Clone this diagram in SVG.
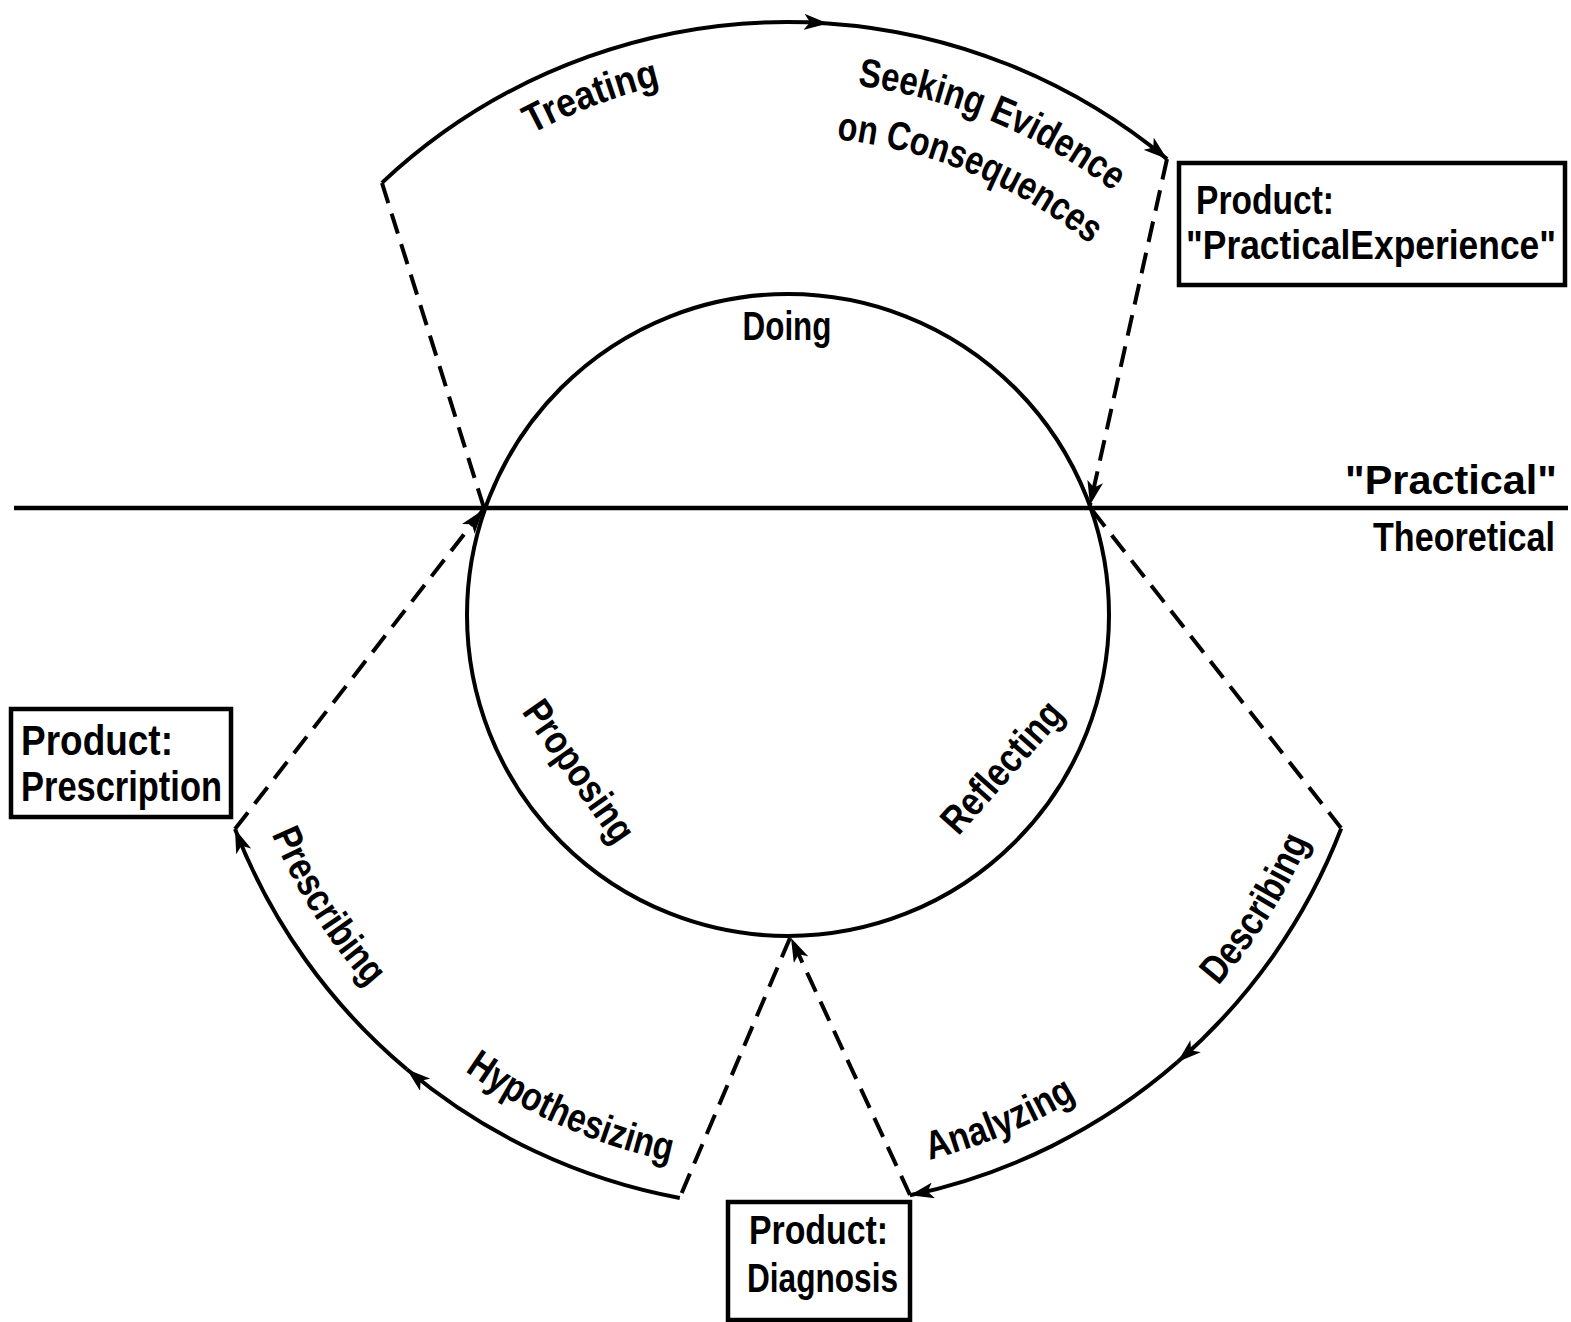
<svg xmlns="http://www.w3.org/2000/svg" width="1571" height="1322" viewBox="0 0 1571 1322">
  <style>
    .ln { fill: none; stroke: #000; stroke-width: 4; }
    .dash { fill: none; stroke: #000; stroke-width: 4; stroke-dasharray: 21 11; }
    .box { fill: #fff; stroke: #000; stroke-width: 4.5; }
    .t { font-family: "Liberation Sans", Arial, sans-serif; font-weight: bold; font-size: 40px; fill: #000; }
    .tb { font-size: 42px; }
  </style>
  <defs>
    <marker id="arr" viewBox="0 0 24 16" refX="24" refY="8" markerUnits="userSpaceOnUse" markerWidth="24" markerHeight="16" orient="auto">
      <path d="M0,0 L24,8 L0,16 L6,8 Z" fill="#000"/>
    </marker>
    <!-- baseline arcs for curved labels, all centred on (788,615) -->
    <path id="pTreating" d="M365.7,270.6 A545,545 0 0 1 875.1,77.0"/>
    <path id="pSeeking" d="M718.3,85.6 A534,534 0 0 1 1211.7,289.9"/>
    <path id="pConseq" d="M725.6,141.1 A478,478 0 0 1 1167.2,324.0"/>
    <path id="pDescribing" d="M1053.8,1117 A568,568 0 0 0 1355.6,635.8"/>
    <path id="pAnalyzing" d="M716.4,1173.4 A563,563 0 0 0 1235.9,956.2"/>
    <path id="pHypo" d="M337.2,945.5 A559,559 0 0 0 848.9,1170.7"/>
    <path id="pPrescribing" d="M227.5,637.5 A561,561 0 0 0 527.2,1111.7"/>
  </defs>

  <rect width="1571" height="1322" fill="#fff"/>

  <!-- connectors -->
  <g id="connectors">
    <!-- practical / theoretical divide -->
    <line x1="14" y1="508" x2="1568" y2="508" stroke="#000" stroke-width="4.5"/>
    <!-- outer cycle arcs -->
    <path class="ln" d="M381.9,182.9 A593,593 0 0 1 828,23.4" marker-end="url(#arr)"/>
    <path class="ln" d="M828,23.4 A593,593 0 0 1 1167.1,159.1" marker-end="url(#arr)"/>
    <path class="ln" d="M1341.2,828.5 A593,593 0 0 1 1177.5,1062.1" marker-end="url(#arr)"/>
    <path class="ln" d="M1177.5,1062.1 A593,593 0 0 1 909.9,1195.3" marker-end="url(#arr)"/>
    <path class="ln" d="M679.8,1198 A593,593 0 0 1 406.8,1069.3" marker-end="url(#arr)"/>
    <path class="ln" d="M406.8,1069.3 A593,593 0 0 1 235,829" marker-end="url(#arr)"/>
    <!-- dashed links between the arcs and the inner circle -->
    <path class="dash" d="M382,183 L484,508"/>
    <path class="dash" d="M235,829 L483,510" marker-end="url(#arr)"/>
    <path class="dash" d="M1167,159 L1090,505" marker-end="url(#arr)"/>
    <path class="dash" d="M1092,510 L1341,828"/>
    <path class="dash" d="M910,1195 L791,938" marker-end="url(#arr)"/>
    <path class="dash" d="M790,938 L680,1197"/>
  </g>

  <!-- inner cycle -->
  <g id="cycle">
    <circle class="ln" cx="788" cy="615" r="321"/>
    <text class="t" x="787" y="340" text-anchor="middle" textLength="89" lengthAdjust="spacingAndGlyphs">Doing</text>
    <text class="t" transform="translate(578,772) rotate(55)" x="0" y="12" text-anchor="middle" textLength="164" lengthAdjust="spacingAndGlyphs">Proposing</text>
    <text class="t" transform="translate(1003,768) rotate(-48.5)" x="0" y="12" text-anchor="middle" textLength="162" lengthAdjust="spacingAndGlyphs">Reflecting</text>
  </g>

  <!-- activity labels along the outer arcs -->
  <g id="activities">
    <text class="t"><textPath href="#pTreating" startOffset="50%" text-anchor="middle" textLength="138" lengthAdjust="spacingAndGlyphs">Treating</textPath></text>
    <text class="t"><textPath href="#pSeeking" startOffset="50%" text-anchor="middle" textLength="280" lengthAdjust="spacingAndGlyphs">Seeking Evidence</textPath></text>
    <text class="t"><textPath href="#pConseq" startOffset="50%" text-anchor="middle" textLength="278" lengthAdjust="spacingAndGlyphs">on Consequences</textPath></text>
    <text class="t"><textPath href="#pDescribing" startOffset="50%" text-anchor="middle" textLength="172" lengthAdjust="spacingAndGlyphs">Describing</textPath></text>
    <text class="t"><textPath href="#pAnalyzing" startOffset="50%" text-anchor="middle" textLength="160" lengthAdjust="spacingAndGlyphs">Analyzing</textPath></text>
    <text class="t"><textPath href="#pHypo" startOffset="50%" text-anchor="middle" textLength="226" lengthAdjust="spacingAndGlyphs">Hypothesizing</textPath></text>
    <text class="t"><textPath href="#pPrescribing" startOffset="50%" text-anchor="middle" textLength="182" lengthAdjust="spacingAndGlyphs">Prescribing</textPath></text>
  </g>

  <!-- side labels of the divide -->
  <g id="realms">
    <text class="t" x="1345" y="494" textLength="212" lengthAdjust="spacingAndGlyphs">"Practical"</text>
    <text class="t" transform="translate(1373,551) scale(0.853,1)" x="0" y="0">Theoretical</text>
  </g>

  <!-- product boxes -->
  <g id="product-experience">
    <rect class="box" x="1179" y="163" width="386" height="122"/>
    <text class="t" x="1196" y="214" textLength="138" lengthAdjust="spacingAndGlyphs">Product:</text>
    <text class="t" transform="translate(1186,259) scale(0.885,1)" x="0" y="0">"PracticalExperience"</text>
  </g>
  <g id="product-prescription">
    <rect class="box" x="11" y="709" width="220" height="108"/>
    <text class="t tb" x="21" y="755" textLength="152" lengthAdjust="spacingAndGlyphs">Product:</text>
    <text class="t tb" x="21" y="801" textLength="201" lengthAdjust="spacingAndGlyphs">Prescription</text>
  </g>
  <g id="product-diagnosis">
    <rect class="box" x="728" y="1202" width="182" height="118"/>
    <text class="t" x="749" y="1244" textLength="139" lengthAdjust="spacingAndGlyphs">Product:</text>
    <text class="t" x="747" y="1292" textLength="151" lengthAdjust="spacingAndGlyphs">Diagnosis</text>
  </g>
</svg>
